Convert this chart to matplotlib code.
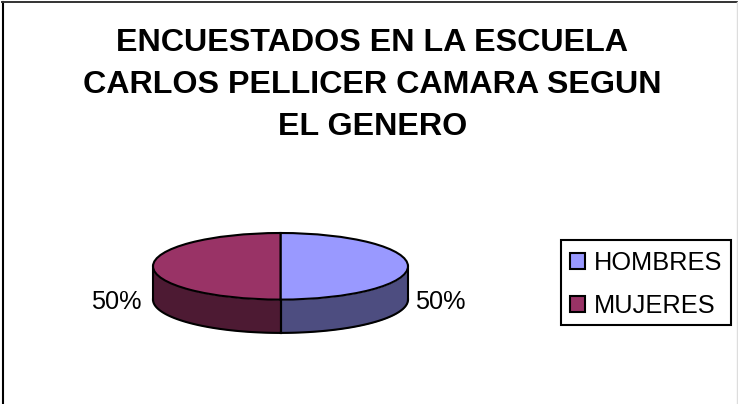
import matplotlib
matplotlib.use('Agg')
import matplotlib.pyplot as plt
import numpy as np
from matplotlib.patches import Patch, Rectangle

plt.rcParams['font.family'] = ['Liberation Sans', 'DejaVu Sans']

title = 'ENCUESTADOS EN LA ESCUELA\nCARLOS PELLICER CAMARA SEGUN\nEL GENERO'
labels = ['HOMBRES', 'MUJERES']
values = [50, 50]
pct_labels = ['50%', '50%']
top_colors = ['#9999FF', '#993366']
side_colors = ['#4D4D80', '#4D1A33']

W, H = 738, 404


def main():
    fig = plt.figure(figsize=(W / 100, H / 100), dpi=100, facecolor='white')

    # background axes in pixels, for the frame, texts and legend
    bg = fig.add_axes([0, 0, 1, 1])
    bg.set_xlim(0, W)
    bg.set_ylim(H, 0)
    bg.axis('off')
    bg.plot([2.5, 2.5], [H, 2], color='black', lw=1.5)
    bg.plot([2, 737], [2, 2], color='#333333', lw=1.4)
    bg.plot([737, 737], [2, H], color='#dddddd', lw=1)

    bg.text(372.5, 85, title, ha='center', va='center', fontsize=23.2,
            fontweight='bold', linespacing=1.52, color='black')
    bg.text(116.5, 302, pct_labels[1], ha='center', va='center', fontsize=18.2)
    bg.text(440.5, 302, pct_labels[0], ha='center', va='center', fontsize=18.2)

    # pie axes: x -1..1 is 153..408 px, y 1 unit is 33 px
    left, right, top, ry, depth = 153, 408, 233, 33.3, 33.3
    bottom = top + 2 * ry + depth
    ax = fig.add_axes([left / W, 1 - bottom / H, (right - left) / W, (bottom - top) / H])

    # side walls, going clockwise from the top like the slices
    fracs = np.array(values) / sum(values)
    ends = 90 - 360 * np.cumsum(fracs)
    starts = ends + 360 * fracs
    d = depth / ry
    for start, end, col in zip(starts, ends, side_colors):
        # keep only the front half of the slice
        for lo, hi in [(max(end, -180), min(start, 0)), (max(end, -360), min(start, -180))]:
            if hi <= lo or lo < -180:
                continue
            t = np.radians(np.linspace(lo, hi, 80))
            x = np.cos(t)
            y = np.sin(t)
            ax.fill_between(x, y, y - d, color=col, lw=0)
            ax.plot(x, y - d, color='black', lw=1.5)
            for ex in (lo, hi):
                r = np.radians(ex)
                ax.plot([np.cos(r)] * 2, [np.sin(r), np.sin(r) - d], color='black', lw=1.5)

    ax.pie(values, colors=top_colors, startangle=90, counterclock=False, radius=1,
           wedgeprops={'edgecolor': 'black', 'linewidth': 1.5})
    ax.set_aspect('auto')
    ax.set_xlim(-1, 1)
    ax.set_ylim(-1 - d, 1)
    ax.axis('off')
    for artist in ax.get_children():
        artist.set_clip_on(False)

    # legend box drawn apart so the padding can differ per side
    bg.add_patch(Rectangle((561, 240), 170, 85, facecolor='white', edgecolor='black', lw=1.5))
    handles = [Patch(facecolor=c, edgecolor='black', lw=1.5) for c in top_colors]
    bg.legend(handles, labels, loc='center left',
              bbox_to_anchor=(570 / W, 1 - 284.5 / H), bbox_transform=fig.transFigure,
              fontsize=18.3, frameon=False, borderpad=0, labelspacing=0.72,
              handlelength=0.58, handleheight=0.58, handletextpad=0.35,
              borderaxespad=0)

    fig.savefig('out.png', dpi=100, facecolor='white')


if __name__ == '__main__':
    main()
